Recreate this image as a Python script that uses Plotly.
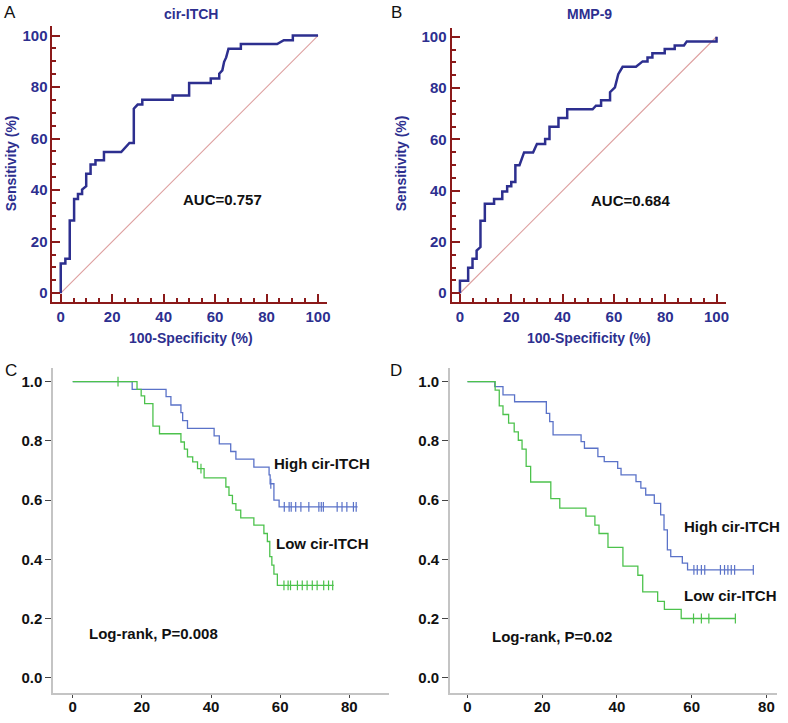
import plotly.graph_objects as go

W, H = 788, 723
FONT = "Arial, Liberation Sans, sans-serif"
NAVY = "#2d2f8f"
RED = "#8b1a1a"
KM_BLUE = "#5a72c8"
KM_GREEN = "#4cc24c"

# ---------------- ROC data (100-Specificity %, Sensitivity %) ----------------
roc_a_fpr = [0, 0, 1.8, 1.8, 3.5, 3.5, 5.2, 5.2, 6.7, 6.7, 8.3, 8.3, 9.9, 9.9, 11.6, 11.6,
             13.5, 13.5, 16.8, 16.8, 23.5, 26.7, 28.4, 28.4, 29.9, 31.7, 31.7, 43.5, 43.5,
             49.9, 49.9, 58.3, 58.3, 61.6, 61.6, 62.8, 63.5, 64.3, 65.2, 65.2, 70, 70, 84.1,
             86.7, 90.2, 90.2, 100]
roc_a_tpr = [0, 11.5, 11.5, 13.4, 13.4, 28.2, 28.2, 36.6, 36.6, 38.5, 38.5, 40.2, 41.5, 46.4,
             46.4, 49.9, 49.9, 51.6, 51.6, 54.8, 54.8, 58.3, 58.3, 71.6, 73.2, 73.2, 75.1, 75.1,
             76.7, 76.7, 81.6, 81.6, 83.3, 83.3, 85.2, 86.5, 89.8, 91.5, 94.9, 94.9, 94.9, 96.7,
             96.7, 98.2, 98.2, 100, 100]

roc_b_fpr = [0, 0, 3.2, 3.2, 4.9, 4.9, 6.5, 6.5, 8.0, 8.0, 9.7, 9.7, 13.3, 13.3, 16.5, 16.5,
             18.4, 18.4, 20.0, 20.0, 21.6, 21.6, 23.2, 25.0, 28.5, 30.0, 33.2, 33.2, 34.9, 34.9,
             38.4, 38.4, 41.8, 41.8, 51.7, 53.0, 55.0, 55.0, 58.5, 58.5, 60.4, 61.7, 63.4, 68.6,
             71.2, 73.1, 73.1, 75.0, 75.0, 79.8, 79.8, 83.7, 83.7, 87.3, 88.4, 100, 100]
roc_b_tpr = [0, 4.9, 4.9, 9.9, 9.9, 13.4, 13.4, 16.6, 18.0, 28.3, 28.3, 34.9, 34.9, 36.7, 36.7,
             39.7, 39.7, 41.7, 41.7, 43.4, 43.4, 49.9, 49.9, 54.9, 54.9, 58.2, 58.2, 60.1, 60.1,
             64.9, 64.9, 68.3, 68.3, 71.7, 71.7, 73.1, 73.1, 75.2, 75.2, 78.4, 80.3, 85.4, 88.3,
             88.3, 90.4, 90.4, 91.9, 91.9, 93.6, 93.6, 95.2, 95.2, 96.6, 96.6, 98.2, 98.2, 100]

roc_labels = ["cir-ITCH", "MMP-9"]
auc_text = ["AUC=0.757", "AUC=0.684"]

# ---------------- Kaplan-Meier data (event time, survival after event) ----------------
c_high_t = [17.2, 27.0, 28.4, 31.3, 31.8, 33.2, 40.9, 42.4, 45.7, 47.2, 52.4, 56.8, 57.1, 58.2, 59.7]
c_high_s = [0.974, 0.949, 0.921, 0.895, 0.868, 0.842, 0.817, 0.790, 0.764, 0.738, 0.711, 0.685,
            0.655, 0.600, 0.577]
c_high_end = 82.4
c_high_cens = [57.3, 61.2, 62.6, 63.2, 64.5, 66.0, 68.3, 71.2, 71.9, 72.5, 76.5, 77.9, 79.3, 81.2, 82.0]

c_low_t = [18.6, 19.8, 20.8, 23.2, 25.1, 31.3, 32.3, 33.2, 34.7, 36.1, 38.0, 44.3, 45.2, 46.2,
           47.2, 48.6, 52.4, 55.3, 56.3, 57.0, 57.6, 58.2, 59.2]
c_low_s = [0.974, 0.952, 0.926, 0.850, 0.824, 0.796, 0.772, 0.746, 0.729, 0.706, 0.675, 0.644,
           0.616, 0.588, 0.566, 0.540, 0.515, 0.487, 0.460, 0.409, 0.380, 0.350, 0.312]
c_low_end = 75.5
c_low_cens = [13.1, 37.1, 61.1, 62.3, 63.0, 65.0, 66.4, 67.8, 69.3, 70.7, 72.6, 74.0, 75.2]

d_high_t = [7.3, 9.5, 12.6, 21.1, 22.0, 22.9, 30.4, 31.3, 34.9, 36.6, 40.2, 41.1, 45.1, 46.4,
            47.7, 50.0, 51.7, 52.6, 53.5, 54.4, 57.5, 58.9]
d_high_s = [0.983, 0.955, 0.932, 0.893, 0.865, 0.820, 0.797, 0.775, 0.747, 0.730, 0.707, 0.685,
            0.662, 0.640, 0.617, 0.589, 0.550, 0.499, 0.432, 0.409, 0.387, 0.364]
d_high_end = 76.6
d_high_cens = [60.6, 61.5, 62.6, 63.5, 67.7, 68.8, 69.7, 70.6, 71.5, 76.5]

d_low_t = [7.4, 8.5, 9.5, 11.0, 12.5, 13.6, 14.6, 15.7, 16.9, 22.3, 24.7, 31.7, 34.1, 35.2,
           37.6, 41.6, 45.6, 46.9, 50.9, 52.7, 57.2]
d_low_s = [0.971, 0.918, 0.889, 0.860, 0.830, 0.802, 0.772, 0.714, 0.661, 0.605, 0.573, 0.546,
           0.515, 0.487, 0.440, 0.377, 0.346, 0.290, 0.258, 0.231, 0.200]
d_low_end = 71.7
d_low_cens = [60.5, 62.6, 64.6, 71.7]

km_groups = ["High cir-ITCH", "Low cir-ITCH"]
km_pvals = ["Log-rank, P=0.008", "Log-rank, P=0.02"]


def km_step(times, surv, end):
    xs = [0] + list(times) + [end]
    ys = [1.0] + list(surv) + [surv[-1]]
    return xs, ys


def km_at(times, surv, t):
    s = 1.0
    for ti, si in zip(times, surv):
        if ti <= t:
            s = si
    return s


fig = go.Figure()

# ROC traces
for i, (fx, ty) in enumerate([(roc_a_fpr, roc_a_tpr), (roc_b_fpr, roc_b_tpr)]):
    xa = "x" if i == 0 else "x2"
    ya = "y" if i == 0 else "y2"
    fig.add_trace(go.Scatter(x=[0, 100], y=[0, 100], mode="lines",
                             line=dict(color="#dd9f9f", width=1.1), xaxis=xa, yaxis=ya,
                             hoverinfo="skip"))
    fig.add_trace(go.Scatter(x=fx, y=ty, mode="lines", line=dict(color=NAVY, width=2.5),
                             xaxis=xa, yaxis=ya))

# KM traces
km_sets = [
    ("x3", "y3", [(c_high_t, c_high_s, c_high_end, c_high_cens, KM_BLUE),
                  (c_low_t, c_low_s, c_low_end, c_low_cens, KM_GREEN)]),
    ("x4", "y4", [(d_high_t, d_high_s, d_high_end, d_high_cens, KM_BLUE),
                  (d_low_t, d_low_s, d_low_end, d_low_cens, KM_GREEN)]),
]
for xa, ya, curves in km_sets:
    for t, s, end, cens, col in curves:
        xs, ys = km_step(t, s, end)
        fig.add_trace(go.Scatter(x=xs, y=ys, mode="lines", line=dict(color=col, width=1.3, shape="hv"),
                                 xaxis=xa, yaxis=ya))
        fig.add_trace(go.Scatter(x=cens, y=[km_at(t, s, c) for c in cens], mode="markers",
                                 marker=dict(symbol="line-ns", size=7, line=dict(color=col, width=1.2)),
                                 xaxis=xa, yaxis=ya))


def dom_x(a, b):
    return [a / W, b / W]


def dom_y(top, bottom):
    return [1 - bottom / H, 1 - top / H]


roc_tickfont = dict(family=FONT, size=15, color=NAVY, weight="bold")
roc_common = dict(showline=True, linecolor=RED, linewidth=2, ticks="inside", ticklen=8,
                  tickwidth=2, tickcolor=RED, showgrid=False, zeroline=False, tickmode="linear",
                  tick0=0, dtick=20, tickfont=roc_tickfont,
                  minor=dict(ticks="inside", ticklen=4, tickwidth=1.5, tickcolor=RED, dtick=5,
                             tick0=0, showgrid=False))

km_tickfont = dict(family=FONT, size=15, color="#111111", weight="bold")
km_common = dict(showline=True, linecolor="#c4c4c4", linewidth=1.5, ticks="outside",
                 tickcolor="#444444", tickwidth=1, showgrid=False, zeroline=False,
                 tickmode="linear", tickfont=km_tickfont)

fig.update_layout(
    width=W, height=H, margin=dict(l=0, r=0, t=0, b=0),
    paper_bgcolor="white", plot_bgcolor="white", showlegend=False,
    font=dict(family=FONT),
    xaxis=dict(domain=dom_x(52.7, 328.3), range=[-3.2, 103.5], anchor="y", **roc_common),
    yaxis=dict(domain=dom_y(26, 301.7), range=[-3.3, 103.7], anchor="x", **roc_common),
    xaxis2=dict(domain=dom_x(453.3, 728.3), range=[-3.26, 103.5], anchor="y2", **roc_common),
    yaxis2=dict(domain=dom_y(28.3, 301.7), range=[-3.3, 103.3], anchor="x2", **roc_common),
    xaxis3=dict(domain=dom_x(53.3, 390), range=[-5.68, 91.35], anchor="y3", tick0=0, dtick=20,
                ticklen=3, ticklabelstandoff=-4, **km_common),
    yaxis3=dict(domain=dom_y(368, 693.3), range=[-0.0527, 1.046], anchor="x3", tick0=0, dtick=0.2,
                tickformat=".1f", ticklen=6, **km_common),
    xaxis4=dict(domain=dom_x(451.7, 780), range=[-4.69, 82.85], anchor="y4", tick0=0, dtick=20,
                ticklen=3, ticklabelstandoff=-4, **km_common),
    yaxis4=dict(domain=dom_y(368, 693.3), range=[-0.0527, 1.046], anchor="x4", tick0=0, dtick=0.2,
                tickformat=".1f", ticklen=6, **km_common),
)

ann = []
# panel letters
for lab, px, py in [("A", 10, 12), ("B", 398, 12), ("C", 11, 371), ("D", 398, 371)]:
    ann.append(dict(text=lab, x=px / W, y=1 - py / H, xref="paper", yref="paper",
                    showarrow=False, font=dict(family=FONT, size=17, color="#111111"),
                    xanchor="center", yanchor="middle"))
# ROC titles and axis titles
for i, (cx, sx) in enumerate([(191.7, 11.7), (591.7, 403.3)]):
    ann.append(dict(text=roc_labels[i], x=cx / W, y=1 - 14 / H, xref="paper", yref="paper",
                    showarrow=False, font=dict(family=FONT, size=14, color=NAVY, weight="bold"),
                    xanchor="center", yanchor="middle"))
    ann.append(dict(text="100-Specificity (%)", x=cx / W, y=1 - 338 / H, xref="paper", yref="paper",
                    showarrow=False, font=dict(family=FONT, size=14, color=NAVY, weight="bold"),
                    xanchor="center", yanchor="middle"))
    ann.append(dict(text="Sensitivity (%)", x=sx / W, y=1 - 163.5 / H, xref="paper", yref="paper",
                    showarrow=False, textangle=-90,
                    font=dict(family=FONT, size=14, color=NAVY, weight="bold"),
                    xanchor="center", yanchor="middle"))
# AUC texts
ann.append(dict(text=auc_text[0], x=63, y=36.2, xref="x", yref="y", showarrow=False,
                font=dict(family=FONT, size=15, color="#111111", weight="bold")))
ann.append(dict(text=auc_text[1], x=66.4, y=36.3, xref="x2", yref="y2", showarrow=False,
                font=dict(family=FONT, size=15, color="#111111", weight="bold")))
# KM texts
km_font = dict(family=FONT, size=15, color="#111111", weight="bold")
for xr, yr, hx, hy, lx, ly, px_, py_, ptxt in [
    ("x3", "y3", 57.7, 0.724, 58.2, 0.454, 4.1, 0.15, km_pvals[0]),
    ("x4", "y4", 57.3, 0.51, 57.3, 0.276, 6.0, 0.139, km_pvals[1]),
]:
    ann.append(dict(text=km_groups[0], x=hx, y=hy, xref=xr, yref=yr, showarrow=False,
                    xanchor="left", yanchor="middle", font=km_font))
    ann.append(dict(text=km_groups[1], x=lx, y=ly, xref=xr, yref=yr, showarrow=False,
                    xanchor="left", yanchor="middle", font=km_font))
    ann.append(dict(text=ptxt, x=px_, y=py_, xref=xr, yref=yr, showarrow=False,
                    xanchor="left", yanchor="middle", font=km_font))

fig.update_layout(annotations=ann)
fig.write_html(
    "out.html",
    config={"displayModeBar": False},
    post_script="document.body.style.margin='0';document.body.style.padding='0';"
                "document.body.style.overflow='hidden';",
)
